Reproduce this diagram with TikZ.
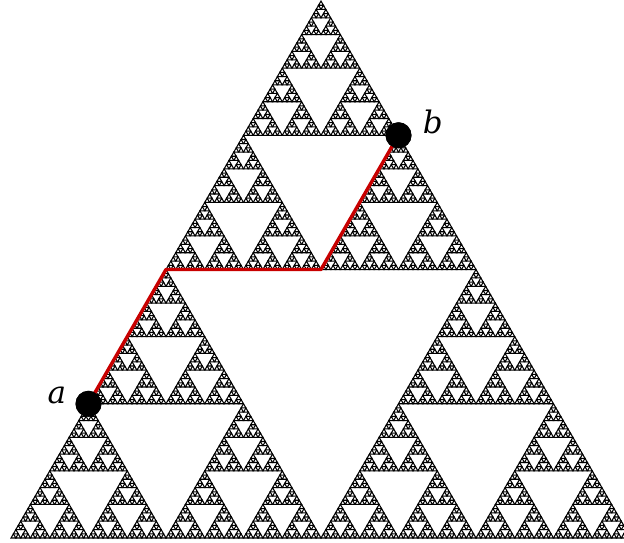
\documentclass[tikz,border=0pt]{standalone}
\usepackage{fontspec}
\setmainfont{DejaVu Serif}
\usepackage{tikz}
\usetikzlibrary{positioning}
\definecolor{pathred}{RGB}{200,0,0}
\tikzset{
  tri/.style={draw=black, line width=1.05pt, line join=miter},
  route/.style={draw=pathred, line width=3.4pt, line join=round},
  dot/.style={circle, fill=black, inner sep=0pt, minimum size=26pt},
  lbl/.style={inner sep=0pt, font=\fontsize{31}{37}\selectfont\itshape},
}
% depth, x, y, side
\newcommand\sierpinski[4]{%
  \ifnum#1=0
    \draw[tri] (#2,#3) -- ++(#4,0) -- ++(120:#4) -- cycle;
  \else
    \begingroup
      \pgfmathtruncatemacro\sdepth{#1-1}%
      \pgfmathsetmacro\sside{#4/2}%
      \pgfmathsetmacro\sxr{#2+\sside}%
      \pgfmathsetmacro\sxt{#2+\sside/2}%
      \pgfmathsetmacro\syt{#3+\sside*0.8660254}%
      \edef\sdo{%
        \noexpand\sierpinski{\sdepth}{#2}{#3}{\sside}%
        \noexpand\sierpinski{\sdepth}{\sxr}{#3}{\sside}%
        \noexpand\sierpinski{\sdepth}{\sxt}{\syt}{\sside}}%
      \sdo
    \endgroup
  \fi}

\begin{document}
\begin{tikzpicture}[x=1pt, y=1pt]
  \useasboundingbox (0,0) rectangle (624,543);
  % the gasket
  \sierpinski{7}{11}{5}{620}

  % route from a to b
  \coordinate (m1) at (166,273.5);
  \coordinate (m2) at (321,273.5);
  \node[dot] (a) at (88.5,139.2) {};
  \node[dot] (b) at (398.5,407.7) {};
  \draw[route] (a.center) -- (m1) -- (m2) -- (b.center);
  \node[dot] at (a.center) {};
  \node[dot] at (b.center) {};
  \node[lbl, left=9pt of a, yshift=8pt] (la) {a};
  \node[lbl, right=11pt of b, yshift=13pt] (lb) {b};
\end{tikzpicture}
\end{document}
